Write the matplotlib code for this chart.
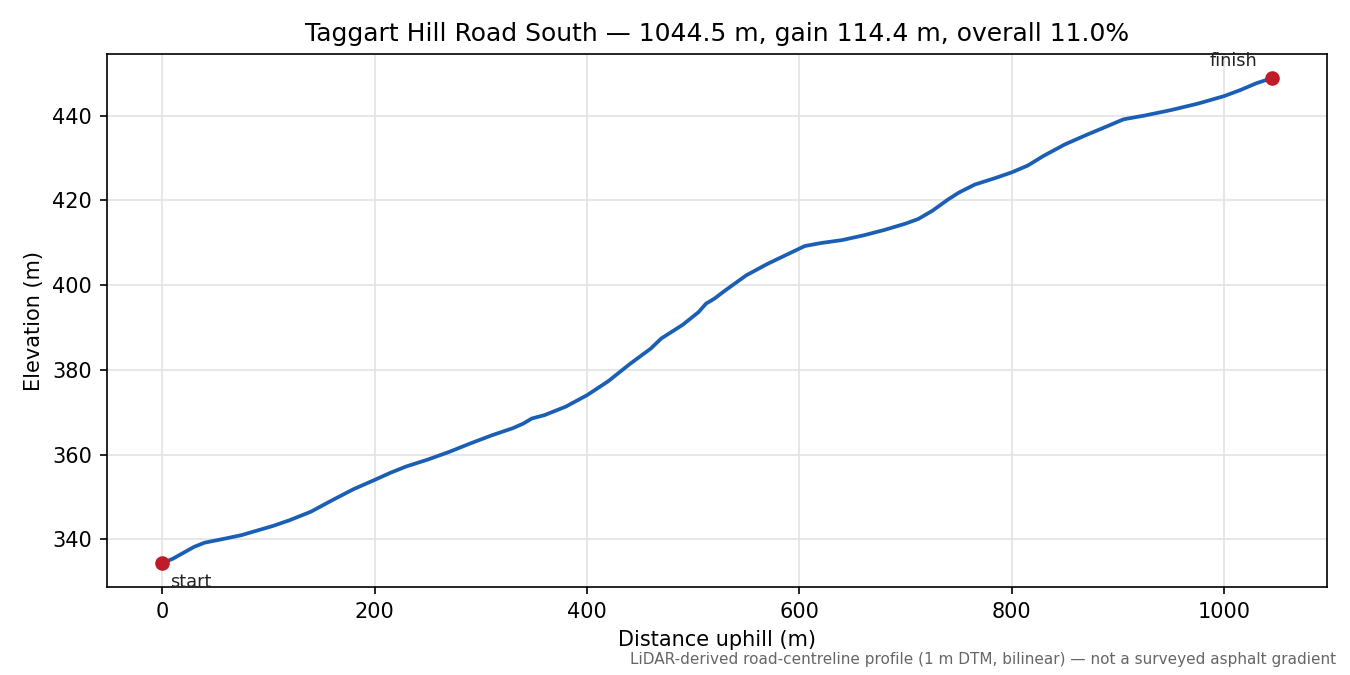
import matplotlib
matplotlib.use("Agg")
import matplotlib.pyplot as plt

# distance along road (m) and elevation (m), read from the profile
dist = [0, 10, 20, 30, 40, 50, 60, 75, 90, 105, 120, 140, 160, 180, 200, 215,
        230, 250, 270, 290, 310, 330, 340, 348, 360, 380, 400, 420, 440, 460,
        470, 490, 505, 512, 520, 530, 550, 570, 590, 605, 620, 640, 660, 680,
        700, 712, 725, 735, 740, 750, 765, 785, 800, 815, 830, 850, 870, 890,
        905, 925, 950, 975, 1000, 1015, 1030, 1044.5]
elev = [334.4, 335.4, 336.8, 338.2, 339.2, 339.7, 340.2, 341.0, 342.1, 343.2,
        344.5, 346.5, 349.2, 351.8, 354.0, 355.7, 357.2, 358.8, 360.6, 362.6,
        364.5, 366.2, 367.3, 368.5, 369.3, 371.3, 374.0, 377.3, 381.3, 385.0,
        387.4, 390.6, 393.6, 395.6, 396.8, 398.7, 402.3, 405.0, 407.4, 409.2,
        409.9, 410.6, 411.7, 413.0, 414.5, 415.6, 417.5, 419.3, 420.2, 421.8,
        423.7, 425.3, 426.6, 428.2, 430.5, 433.2, 435.4, 437.5, 439.1, 440.0,
        441.3, 442.8, 444.6, 446.0, 447.6, 448.8]

title = "Taggart Hill Road South — 1044.5 m, gain 114.4 m, overall 11.0%"
note = "LiDAR-derived road-centreline profile (1 m DTM, bilinear) — not a surveyed asphalt gradient"

fig, ax = plt.subplots(figsize=(9, 4.5), dpi=150)
fig.subplots_adjust(left=0.079, right=0.983, top=0.92, bottom=0.13)

ax.plot(dist, elev, color="#1a5fb4", lw=1.8, zorder=2)
ax.plot([dist[0], dist[-1]], [elev[0], elev[-1]], "o", color="#c01c28", ms=6, zorder=3)

ax.annotate("start", (dist[0], elev[0]), xytext=(4, -5), textcoords="offset points",
            ha="left", va="top", fontsize=8.5, color="#222222")
ax.annotate("finish", (dist[-1], elev[-1]), xytext=(-7, 4), textcoords="offset points",
            ha="right", va="bottom", fontsize=8.5, color="#222222")

ax.grid(True, color="#e3e3e3", lw=0.8)
ax.set_axisbelow(True)
ax.set_title(title, fontsize=12)
ax.set_xlabel("Distance uphill (m)")
ax.set_ylabel("Elevation (m)")

fig.text(0.99, 0.012, note, ha="right", va="bottom", fontsize=7.3, color="#666666")

fig.savefig("out.png", dpi=150)
